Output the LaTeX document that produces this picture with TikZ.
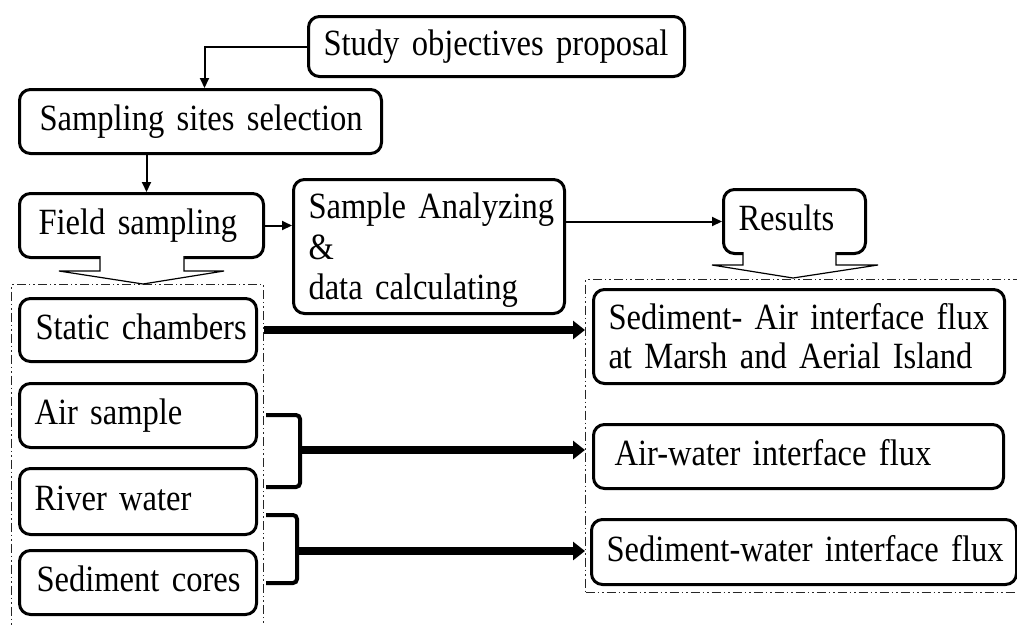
\documentclass[tikz,border=0pt]{standalone}
\usepackage{fontspec}
\setmainfont{Liberation Serif}[FakeStretch=0.88]
\usetikzlibrary{arrows.meta}
\tikzset{
  box/.style={draw, line width=3pt, rounded corners=11pt, inner ysep=0pt,
    anchor=north west, align=left, font=\fontsize{37}{40}\selectfont},
  oneline/.style={text height=26pt, text depth=8pt},
  groupbox/.style={draw=black!85, line width=1.2pt, anchor=north west, inner sep=0pt,
    dash pattern=on 9pt off 3pt on 1.5pt off 3pt on 1.5pt off 3pt},
  thinarrow/.style={line width=2pt, -{Triangle[length=10pt,width=9pt]}},
  thickarrow/.style={line width=8.5pt, -{Triangle[length=12pt,width=18pt]}},
  bracketline/.style={line width=4pt, rounded corners=4pt},
  hollow/.style={draw, fill=white, line width=1.2pt, line join=miter}
}
\begin{document}
\begin{tikzpicture}[x=1pt,y=-1pt]
\useasboundingbox (0,0) rectangle (1017,625);
% group frames
\node[groupbox, minimum width=252pt, minimum height=350pt] (lgroup) at (11,284) {};
\node[groupbox, minimum width=450pt, minimum height=313pt] (rgroup) at (585,279) {};
% boxes
\node[box, oneline, minimum height=60pt, inner xsep=15pt, text width=346pt] (study) at (307,15) {\mbox{Study objectives proposal}};
\node[box, oneline, minimum height=64pt, inner xsep=20pt, text width=322pt] (sites) at (18,88) {\mbox{Sampling sites selection}};
\node[box, oneline, minimum height=64pt, inner xsep=19pt, text width=206pt] (field) at (18,192) {\mbox{Field sampling}};
\node[box, minimum height=134pt, inner xsep=15pt, text width=241pt, text height=33pt, font=\fontsize{37}{40.5}\selectfont] (sa) at (292,178) {\mbox{Sample Analyzing}\\\&\\\mbox{data calculating}};
\node[box, oneline, minimum height=64pt, inner xsep=15pt, text width=112pt] (results) at (722,188) {\mbox{Results}};
\node[box, oneline, minimum height=63pt, inner xsep=16pt, text width=205pt] (static) at (18,297) {\mbox{Static chambers}};
\node[box, oneline, minimum height=64pt, inner xsep=15pt, text width=207pt] (air) at (18,382) {\mbox{Air sample}};
\node[box, oneline, minimum height=66pt, inner xsep=15pt, text width=207pt] (river) at (18,467) {\mbox{River water}};
\node[box, oneline, minimum height=64pt, inner xsep=17pt, text width=203pt] (cores) at (18,549) {\mbox{Sediment cores}};
\node[box, minimum height=94pt, inner xsep=15pt, text width=381pt, font=\fontsize{37}{39}\selectfont] (sedair) at (592,288) {\mbox{Sediment- Air interface flux}\\\mbox{at Marsh and Aerial Island}};
\node[box, oneline, minimum height=64pt, inner xsep=21pt, text width=368pt] (airwater) at (592,423) {\mbox{Air-water interface flux}};
\node[box, oneline, minimum height=65pt, inner xsep=15pt, text width=395pt] (sedwater) at (590,518) {\mbox{Sediment-water interface flux}};
% thin arrows
\draw[thinarrow] (study.west) -| ([xshift=4pt]sites.north);
\draw[thinarrow] ([xshift=5pt]field.north |- sites.south) -- ([xshift=5pt]field.north);
\draw[thinarrow] (field.east) -- (sa.west |- field.east);
\draw[thinarrow] (sa.east |- results.west) -- (results.west);
% hollow block arrows
\draw[hollow] (100,256) -- (100,271) -- (59,271) -- (143,284) -- (224,271) -- (184,271) -- (184,256);
\draw[hollow] (743,252) -- (743,265) -- (712,265) -- (793,278) -- (878,265) -- (836,265) -- (836,252);
% thick arrows
\draw[thickarrow] (lgroup.east |- static.east) -- (rgroup.west |- static.east);
\coordinate (b1) at (300,450);
\coordinate (b2) at (297,551);
\draw[bracketline] ([xshift=2pt]lgroup.east |- 0,415) -| (b1 |- 0,487) -- ([xshift=2pt]lgroup.east |- 0,487);
\draw[thickarrow] ([xshift=-2pt]b1) -- (rgroup.west |- b1);
\draw[bracketline] ([xshift=2pt]lgroup.east |- 0,515) -| (b2 |- 0,583) -- ([xshift=2pt]lgroup.east |- 0,583);
\draw[thickarrow] ([xshift=-2pt]b2) -- (rgroup.west |- b2);
\end{tikzpicture}
\end{document}
